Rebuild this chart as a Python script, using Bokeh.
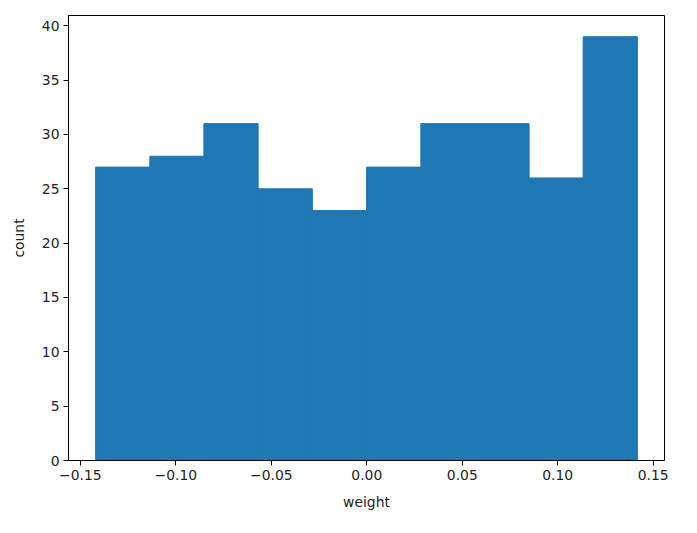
from bokeh.plotting import figure
from bokeh.models import Range1d, FixedTicker
from bokeh.embed import file_html
from bokeh.resources import INLINE

# Data
bin_edges = [-0.1420, -0.1136, -0.0853, -0.0569, -0.0285, -0.0001,
             0.0283, 0.0566, 0.0850, 0.1133, 0.1417]
counts = [27, 28, 31, 25, 23, 27, 31, 31, 26, 39]

x_ticks = [-0.15, -0.10, -0.05, 0.00, 0.05, 0.10, 0.15]
x_tick_labels = ["\u22120.15", "\u22120.10", "\u22120.05", "0.00", "0.05", "0.10", "0.15"]
y_ticks = [0, 5, 10, 15, 20, 25, 30, 35, 40]

FONT = "DejaVu Sans"

p = figure(width=681, height=517, output_backend="svg", toolbar_location=None,
           x_range=Range1d(-0.1562, 0.1559), y_range=Range1d(0, 40.95))
p.min_border_left = 68
p.min_border_right = 17
p.min_border_top = 15
p.min_border_bottom = 57

p.quad(left=bin_edges[:-1], right=bin_edges[1:], bottom=0, top=counts,
       fill_color="#1f77b4", line_color="#1f77b4", line_width=1)

p.xgrid.visible = False
p.ygrid.visible = False
p.outline_line_color = "black"
p.outline_line_width = 1
p.background_fill_color = "white"
p.border_fill_color = "white"

p.xaxis.ticker = FixedTicker(ticks=x_ticks)
p.xaxis.major_label_overrides = {t: l for t, l in zip(x_ticks, x_tick_labels)}
p.yaxis.ticker = FixedTicker(ticks=y_ticks)

for ax in (p.xaxis[0], p.yaxis[0]):
    ax.axis_line_color = "black"
    ax.major_tick_line_color = "black"
    ax.major_tick_out = 5
    ax.major_tick_in = 0
    ax.minor_tick_line_color = None
    ax.major_label_standoff = 4
    ax.major_label_text_font = FONT
    ax.major_label_text_font_size = "13.9px"
    ax.major_label_text_color = "#222222"
    ax.axis_label_text_font = FONT
    ax.axis_label_text_font_size = "13.9px"
    ax.axis_label_text_font_style = "normal"
    ax.axis_label_text_color = "#222222"

p.xaxis.axis_label = "weight"
p.yaxis.axis_label = "count"
p.xaxis.axis_label_standoff = 11
p.yaxis.axis_label_standoff = 12

open("out.html", "w").write(file_html(p, INLINE))
